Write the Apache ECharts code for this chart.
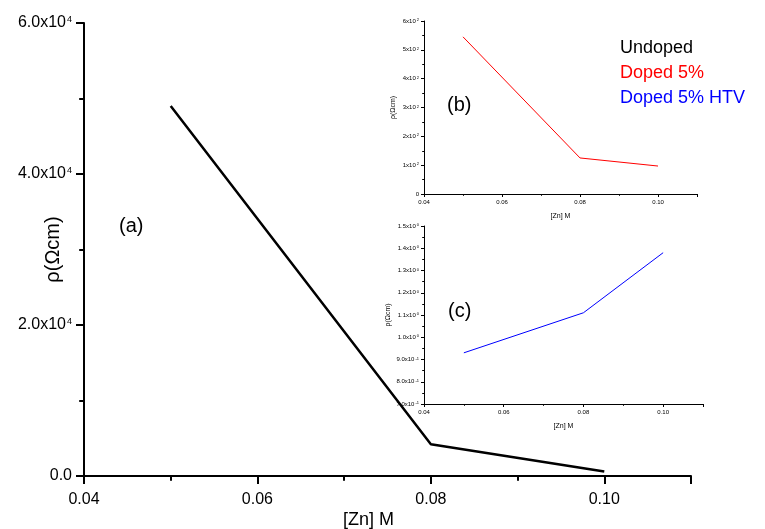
<!DOCTYPE html>
<html>
<head>
<meta charset="utf-8">
<script src="https://cdn.jsdelivr.net/npm/echarts@6/dist/echarts.min.js"></script>
<style>
  html, body { margin: 0; padding: 0; background: #fff; }
  #chart { width: 765px; height: 529px; }
</style>
</head>
<body>
<div id="chart"></div>
<script>
// concentrations [Zn] (M)
const zn = [0.05, 0.08, 0.10]
// resistivity values
const undoped = [49000, 4200, 600]
const doped5 = [545, 125, 97]
const doped5Htv = [0.93, 1.11, 1.38]

// tick labels, '^' marks the exponent
const xTicks = [0.04, 0.06, 0.08, 0.10]
const xLabels = ['0.04', '0.06', '0.08', '0.10']
const mainYTicks = [0, 20000, 40000, 60000]
const mainYLabels = ['0.0', '2.0x10^4', '4.0x10^4', '6.0x10^4']
const bYTicks = [0, 100, 200, 300, 400, 500, 600]
const bYLabels = ['0', '1x10^2', '2x10^2', '3x10^2', '4x10^2', '5x10^2', '6x10^2']
const cYTicks = [0.7, 0.8, 0.9, 1.0, 1.1, 1.2, 1.3, 1.4, 1.5]
const cYLabels = ['7.0x10^-1', '8.0x10^-1', '9.0x10^-1', '1.0x10^0', '1.1x10^0', '1.2x10^0', '1.3x10^0', '1.4x10^0', '1.5x10^0']

const FONT = 'Liberation Sans, Arial, sans-serif'

const findTick = (ticks, v) => ticks.findIndex((t) => Math.abs(t - v) < 1e-6 * Math.max(1, Math.abs(t)))

const plain = (ticks, labels) => (v) => {
  const i = findTick(ticks, v)
  return i < 0 ? '' : labels[i]
}

const pick = (ticks, labels) => (v) => {
  const i = findTick(ticks, v)
  if (i < 0) return ''
  const [m, e] = labels[i].split('^')
  return e === undefined ? `{m|${m}}` : `{m|${m}}{s|${e}}`
}

const richLabel = (size, supSize) => ({
  m: { fontSize: size, fontFamily: FONT, color: '#000' },
  s: { fontSize: supSize, fontFamily: FONT, color: '#000', verticalAlign: 'top', padding: [0, 0, 0, 1] },
})

const makeX = (grid, size, width, tickLen, margin, nameSize, nameGap, namePad) => ({
  type: 'value',
  gridIndex: grid,
  min: 0.04,
  max: 0.11,
  interval: 0.02,
  name: '[Zn] M',
  nameLocation: 'middle',
  nameGap: nameGap,
  nameMoveOverlap: false,
  nameTextStyle: { fontFamily: FONT, fontSize: nameSize, color: '#000', padding: namePad },
  axisLine: { show: true, onZero: false, lineStyle: { color: '#000', width: width } },
  axisTick: { show: true, inside: false, length: tickLen, lineStyle: { color: '#000', width: width } },
  minorTick: { show: true, splitNumber: 2, length: tickLen * 0.6, lineStyle: { color: '#000', width: width } },
  axisLabel: { fontFamily: FONT, fontSize: size, color: '#000', margin: margin, formatter: plain(xTicks, xLabels) },
  splitLine: { show: false },
})

const makeY = (grid, min, max, interval, ticks, labels, size, supSize, width, tickLen, margin, nameSize, nameGap) => ({
  type: 'value',
  gridIndex: grid,
  min: min,
  max: max,
  interval: interval,
  name: 'ρ(Ωcm)',
  nameLocation: 'middle',
  nameGap: nameGap,
  nameMoveOverlap: false,
  nameTextStyle: { fontFamily: FONT, fontSize: nameSize, color: '#000' },
  axisLine: { show: true, onZero: false, lineStyle: { color: '#000', width: width } },
  axisTick: { show: true, inside: false, length: tickLen, lineStyle: { color: '#000', width: width } },
  minorTick: { show: true, splitNumber: 2, length: tickLen * 0.6, lineStyle: { color: '#000', width: width } },
  axisLabel: { margin: margin, formatter: pick(ticks, labels), rich: richLabel(size, supSize) },
  splitLine: { show: false },
})

const chart = echarts.init(document.getElementById('chart'))

chart.setOption({
  backgroundColor: '#fff',
  animation: false,
  grid: [
    { left: 84, top: 23, right: 74, bottom: 53, outerBoundsMode: 'none' },
    { left: 424, top: 21, width: 273, height: 173, outerBoundsMode: 'none' },
    { left: 424, top: 226, width: 279, height: 178, outerBoundsMode: 'none' },
  ],
  legend: {
    orient: 'vertical',
    left: 610,
    top: 33,
    itemWidth: 0,
    itemHeight: 20,
    itemGap: 6,
    icon: 'none',
    selectedMode: false,
    data: [
      { name: 'Undoped', textStyle: { color: '#000' } },
      { name: 'Doped 5%', textStyle: { color: '#ff0000' } },
      { name: 'Doped 5% HTV', textStyle: { color: '#0000ff' } },
    ],
    textStyle: { fontFamily: FONT, fontSize: 18 },
  },
  xAxis: [
    makeX(0, 16, 2, 8, 16, 18, 35, [0, 38, 0, 0]),
    makeX(1, 6, 1, 3, 5, 7, 19, 0),
    makeX(2, 6, 1, 3, 5, 7, 19, 0),
  ],
  yAxis: [
    makeY(0, 0, 60000, 20000, mainYTicks, mainYLabels, 16, 9, 2, 8, 12, 20, 21),
    makeY(1, 0, 600, 100, bYTicks, bYLabels, 6, 4, 1, 3, 5, 7, 27),
    makeY(2, 0.7, 1.5, 0.1, cYTicks, cYLabels, 6, 4, 1, 3, 5, 7, 32),
  ],
  graphic: [
    { type: 'text', left: 119, top: 216, style: { text: '(a)', font: `20px ${FONT}`, fill: '#000' } },
    { type: 'text', left: 447, top: 95, style: { text: '(b)', font: `20px ${FONT}`, fill: '#000' } },
    { type: 'text', left: 448, top: 301, style: { text: '(c)', font: `20px ${FONT}`, fill: '#000' } },
  ],
  series: [
    {
      name: 'Undoped',
      type: 'line',
      xAxisIndex: 0,
      yAxisIndex: 0,
      symbol: 'none',
      lineStyle: { color: '#000', width: 2.5 },
      itemStyle: { color: '#000' },
      data: zn.map((x, i) => [x, undoped[i]]),
    },
    {
      name: 'Doped 5%',
      type: 'line',
      xAxisIndex: 1,
      yAxisIndex: 1,
      symbol: 'none',
      lineStyle: { color: '#ff0000', width: 1 },
      itemStyle: { color: '#ff0000' },
      data: zn.map((x, i) => [x, doped5[i]]),
    },
    {
      name: 'Doped 5% HTV',
      type: 'line',
      xAxisIndex: 2,
      yAxisIndex: 2,
      symbol: 'none',
      lineStyle: { color: '#0000ff', width: 1 },
      itemStyle: { color: '#0000ff' },
      data: zn.map((x, i) => [x, doped5Htv[i]]),
    },
  ],
})
</script>
</body>
</html>
